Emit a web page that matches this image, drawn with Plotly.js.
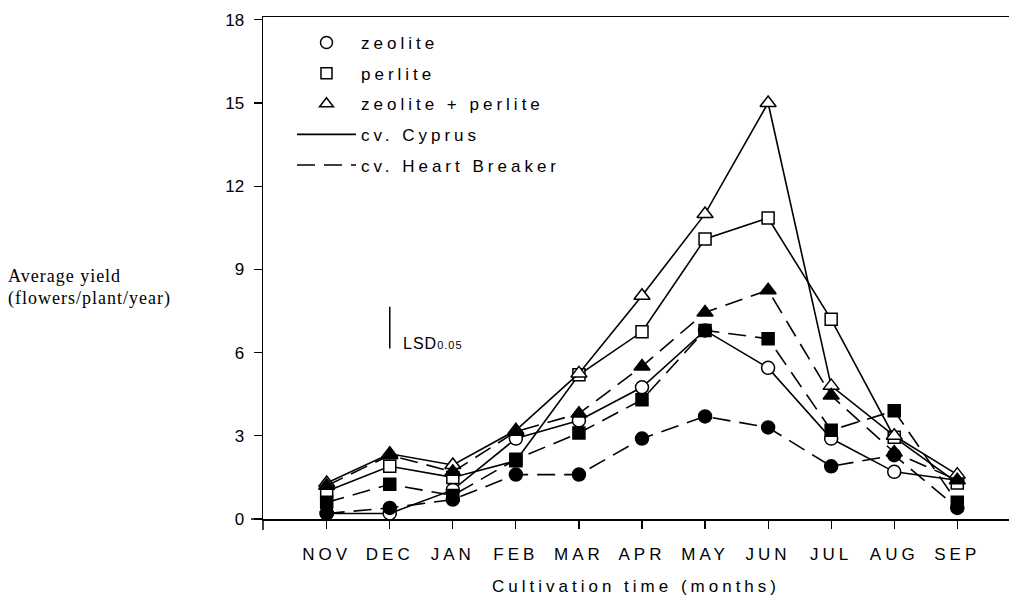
<!DOCTYPE html>
<html>
<head>
<meta charset="utf-8">
<script src="https://cdn.plot.ly/plotly-3.0.1.min.js"></script>
<style>
  html, body { margin: 0; padding: 0; background: #fff; }
  #chart { width: 1009px; height: 599px; }
  .xtick text, .legendtext, .g-xtitle text { letter-spacing: 4px; }
  .annotation-text { letter-spacing: 1px; }
</style>
</head>
<body>
<div id="chart"></div>
<script>
// ---- data ----
const months = ["NOV", "DEC", "JAN", "FEB", "MAR", "APR", "MAY", "JUN", "JUL", "AUG", "SEP"];

// cv. Cyprus (solid lines, open markers)
const zeoliteCyprus       = [0.2, 0.2, 1.05, 2.9, 3.55, 4.75, 6.8, 5.45, 2.9, 1.7, 1.4];
const perliteCyprus       = [1.0, 1.9, 1.5, 2.1, 5.2, 6.75, 10.1, 10.85, 7.2, 2.95, 1.3];
const zeoPerCyprus        = [1.3, 2.35, 1.95, 3.2, 5.25, 8.05, 11.0, 15.0, 4.8, 3.0, 1.6];

// cv. Heart Breaker (dashed lines, filled markers)
const zeoliteHeart        = [0.2, 0.4, 0.7, 1.6, 1.6, 2.9, 3.7, 3.3, 1.9, 2.3, 0.4];
const perliteHeart        = [0.6, 1.25, 0.85, 2.15, 3.1, 4.3, 6.8, 6.5, 3.2, 3.9, 0.6];
const zeoPerHeart         = [1.2, 2.3, 1.7, 3.15, 3.8, 5.5, 7.45, 8.25, 4.45, 2.4, 1.4];

const yTicks = [0, 3, 6, 9, 12, 15, 18];
const lsdValue = 1.5;

// ---- styling helpers ----
const LW = 1.6;
const DASH = "18px,9px";
const FONT = "Liberation Sans, Arial, sans-serif";
const SERIF = "Liberation Serif, Times New Roman, serif";

function series(y, symbol, size, filled, dashed) {
  return {
    x: months, y: y, type: "scatter", mode: "lines+markers",
    showlegend: false, cliponaxis: false,
    line: { color: "#000", width: LW, dash: dashed ? DASH : "solid" },
    marker: { symbol: symbol, size: size, color: filled ? "#000" : "#fff",
              line: { color: "#000", width: 1.5 } },
    hoverinfo: "skip"
  };
}
function legendMarker(name, symbol, size, group) {
  return { x: [null], y: [null], type: "scatter", mode: "markers", name: name,
           legendgroup: group,
           marker: { symbol: symbol, size: size, color: "#fff", line: { color: "#000", width: 1.5 } } };
}
function legendLine(name, dashed, group) {
  return { x: [null], y: [null], type: "scatter", mode: "lines", name: name,
           legendgroup: group,
           line: { color: "#000", width: LW, dash: dashed ? DASH : "solid" } };
}

const traces = [
  series(zeoliteCyprus, "circle", 13, false, false),
  series(perliteCyprus, "square", 12, false, false),
  series(zeoPerCyprus, "triangle-up", 14, false, false),
  series(zeoliteHeart, "circle", 13, true, true),
  series(perliteHeart, "square", 12, true, true),
  series(zeoPerHeart, "triangle-up", 14, true, true),
  legendMarker("zeolite", "circle", 12, "g1"),
  legendMarker("perlite", "square", 11, "g2"),
  legendMarker("zeolite + perlite", "triangle-up", 12, "g3"),
  legendLine("cv. Cyprus", false, "g4"),
  legendLine("cv. Heart Breaker", true, "g5")
];

// pixel helpers for paper coordinates
const L = 263, R = 0, T = 17, B = 80, W = 1009, H = 599;
const px = p => (p - L) / (W - L - R);
const py = p => (H - B - p) / (H - B - T);

const layout = {
  width: W, height: H,
  margin: { l: L, r: R, t: T, b: B, pad: 0 },
  paper_bgcolor: "#fff", plot_bgcolor: "#fff",
  font: { family: FONT, size: 17, color: "#000" },
  showlegend: true,
  legend: {
    x: px(292), y: py(25), xanchor: "left", yanchor: "top",
    bgcolor: "rgba(0,0,0,0)", borderwidth: 0,
    font: { family: FONT, size: 17, color: "#000" },
    tracegroupgap: 5.5, itemwidth: 59, traceorder: "grouped"
  },
  xaxis: {
    type: "category", categoryorder: "array", categoryarray: months,
    range: [-1.01, 10.82],
    showline: true, linecolor: "#000", linewidth: 1.5, mirror: true,
    showgrid: false, zeroline: false,
    ticks: "outside", ticklen: 8, tickwidth: 1.2, tickcolor: "#000",
    ticklabelstandoff: 11,
    tickfont: { family: FONT, size: 17, color: "#000" },
    title: { text: "Cultivation time (months)", standoff: 17,
             font: { family: FONT, size: 17, color: "#000" } },
    fixedrange: true
  },
  yaxis: {
    range: [0, 18.1],
    tickvals: yTicks, ticktext: yTicks.map(String),
    showline: true, linecolor: "#000", linewidth: 1.5,
    showgrid: false, zeroline: false,
    ticks: "outside", ticklen: 8, tickwidth: 1.2, tickcolor: "#000",
    ticklabelstandoff: 6,
    tickfont: { family: FONT, size: 17, color: "#000" },
    fixedrange: true
  },
  shapes: [
    { type: "line", xref: "x", yref: "y", x0: 1, x1: 1, y0: 6.15, y1: 6.15 + lsdValue,
      line: { color: "#000", width: 1.5 } },
    { type: "line", xref: "paper", yref: "paper", x0: 0, x1: 0, y0: 0, y1: py(530),
      line: { color: "#000", width: 1.5 } },
    { type: "line", xref: "paper", yref: "paper", x0: px(251), x1: 0, y0: 0, y1: 0,
      line: { color: "#000", width: 1.5 } }
  ],
  annotations: [
    { xref: "paper", yref: "paper", x: px(401), y: py(343), xanchor: "left", yanchor: "middle",
      showarrow: false, text: "LSD<span style='font-size:11px'>0.05</span>",
      font: { family: FONT, size: 16, color: "#000" } },
    { xref: "paper", yref: "paper", x: px(6), y: py(276), xanchor: "left", yanchor: "middle",
      showarrow: false, text: "Average yield",
      font: { family: SERIF, size: 18, color: "#000" } },
    { xref: "paper", yref: "paper", x: px(6), y: py(298), xanchor: "left", yanchor: "middle",
      showarrow: false, text: "(flowers/plant/year)",
      font: { family: SERIF, size: 18, color: "#000" } }
  ]
};

Plotly.newPlot("chart", traces, layout, { displayModeBar: false, staticPlot: true });
</script>
</body>
</html>
